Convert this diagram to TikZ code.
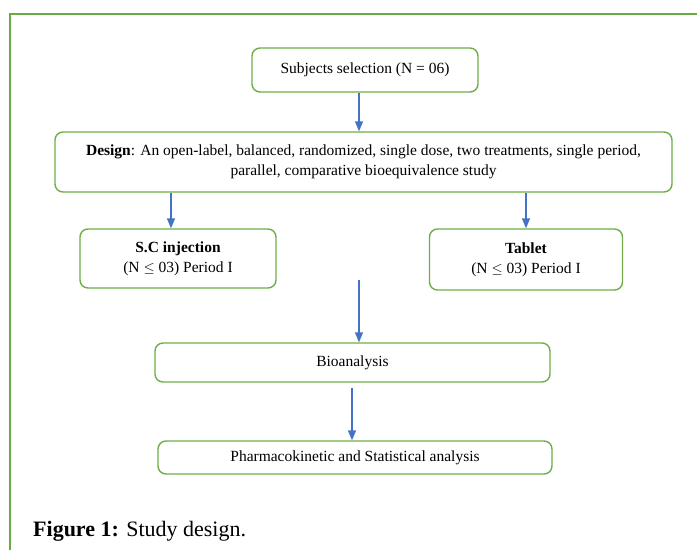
\documentclass[tikz,border=0pt]{standalone}
\usepackage{fontspec}
\setmainfont{Liberation Serif}
\usepackage{tikz}
\usetikzlibrary{arrows.meta}
\definecolor{boxgreen}{RGB}{112,173,71}
\definecolor{framegreen}{RGB}{104,170,70}
\definecolor{flowblue}{RGB}{68,114,196}
\tikzset{
    stage/.style={ draw=boxgreen, line width=1.4pt, rounded corners=8pt, fill=white,
                   align=center, inner sep=0pt, font=\fontsize{15.5}{20}\selectfont },
    flow/.style={ flowblue, line width=1.4pt, -{Triangle[length=10pt,width=8pt]} },
    frame/.style={ framegreen, line width=1.2pt }
}

\begin{document}
\begin{tikzpicture}[x=1pt,y=-1pt]
        \useasboundingbox (0,0) rectangle (697,550);
        \draw[frame] (10,550) -- (10,14) -- (697,14);

        \node[stage, minimum width=226pt, minimum height=44pt] (sel) at (365,70) {Subjects selection (N = 06)};
        \node[stage, minimum width=617pt, minimum height=60pt] (design) at (363.5,162)
            {\textbf{Design}: An open-label, balanced, randomized, single dose, two treatments, single period,\\
             parallel, comparative bioequivalence study};
        \node[stage, minimum width=196pt, minimum height=59pt] (scinj) at (178,258.5)
            {\textbf{S.C injection}\\(N $\leq$ 03) Period I};
        \node[stage, minimum width=193pt, minimum height=61pt] (tablet) at (526,259.5)
            {\textbf{Tablet}\\(N $\leq$ 03) Period I};
        \node[stage, minimum width=395pt, minimum height=39pt] (bio) at (352.5,362.5) {Bioanalysis};
        \node[stage, minimum width=394pt, minimum height=33pt] (pk) at (355,457.5) {Pharmacokinetic and Statistical analysis};

        \coordinate (gap1) at (359,280);
        \coordinate (gap2) at (352,388);

        \draw[flow] ([xshift=-6pt]sel.south) -- ([xshift=-6pt]sel.south |- design.north);
        \draw[flow] ([xshift=-7pt]scinj.north |- design.south) -- ([xshift=-7pt]scinj.north);
        \draw[flow] (tablet.north |- design.south) -- (tablet.north);
        \draw[flow] (gap1) -- (gap1 |- bio.north);
        \draw[flow] (gap2) -- (gap2 |- pk.north);

        \node[anchor=base west, font=\fontsize{22}{26}\selectfont, inner sep=0pt] (caption) at (33,536)
            {\textbf{Figure 1:} Study design.};
\end{tikzpicture}
\end{document}
